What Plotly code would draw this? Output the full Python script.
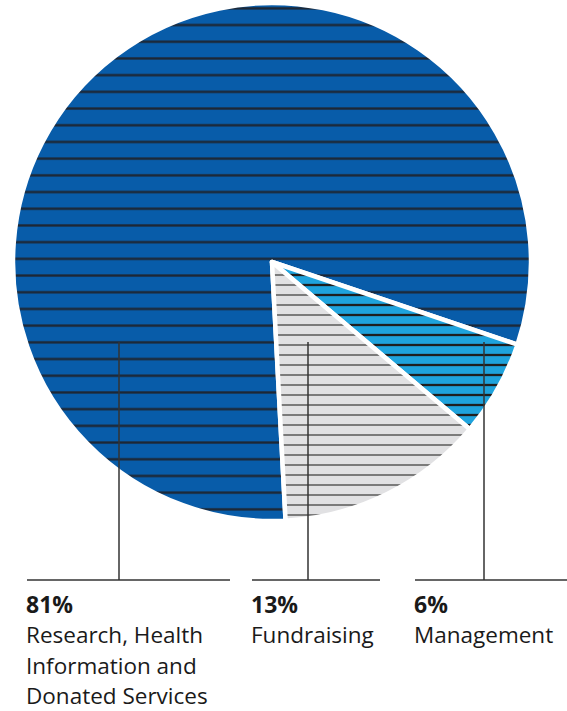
import plotly.graph_objects as go

# ---- data ----
categories = ["Research, Health Information and Donated Services", "Management", "Fundraising"]
values = [81, 6, 13]
pct_labels = ["81%", "6%", "13%"]
label_lines = [["Research, Health", "Information and", "Donated Services"], ["Management"], ["Fundraising"]]

# ---- styles ----
W, H = 567, 711
fill_colors = ["#085ca9", "#1ea3dd", "#e1e1e3"]
line_colors = ["#1d2633", "#1f1f1f", "#7b7b7b"]
pattern_sizes = [16.7, 10, 10]
pattern_solid = [0.14, 0.23, 0.2]

cx, cy, r = 272, 262, 259
label_x = [27, 415, 252]          # left edge of label blocks
leader_x = [119, 484, 308]        # vertical leader positions
rule_right = [230, 567, 380]
rule_y = 580
leader_top = 342

fig = go.Figure()
fig.add_trace(go.Pie(
    labels=categories, values=values, sort=False, direction="clockwise", rotation=177,
    textinfo="none", hoverinfo="label+percent", showlegend=False,
    marker=dict(colors=fill_colors, line=dict(color="white", width=4.5),
                pattern=dict(shape=["-", "-", "-"], fgcolor=line_colors, bgcolor=fill_colors,
                             size=pattern_sizes, solidity=pattern_solid, fillmode="replace")),
    domain=dict(x=[(cx - r) / W, (cx + r) / W], y=[1 - (cy + r) / H, 1 - (cy - r) / H]),
))

# invisible pixel axes for annotations
fig.add_trace(go.Scatter(x=[0, W], y=[0, H], mode="markers", marker=dict(opacity=0), hoverinfo="skip", showlegend=False))

shapes = []
annotations = []
for i in range(len(values)):
    shapes.append(dict(type="line", xref="x", yref="y", x0=leader_x[i], x1=leader_x[i], y0=leader_top, y1=rule_y,
                       line=dict(color="#333333", width=1.5)))
    shapes.append(dict(type="line", xref="x", yref="y", x0=label_x[i], x1=rule_right[i], y0=rule_y, y1=rule_y,
                       line=dict(color="#333333", width=1.5)))
    annotations.append(dict(x=label_x[i] - 2, y=604, xref="x", yref="y", text="<b>" + pct_labels[i] + "</b>",
                            showarrow=False, xanchor="left", yanchor="middle", borderpad=0,
                            font=dict(family="Open Sans", size=23, color="#1a1a1a")))
    for j, ln in enumerate(label_lines[i]):
        annotations.append(dict(x=label_x[i] - 2, y=634.5 + 30.5 * j, xref="x", yref="y", text=ln,
                                showarrow=False, xanchor="left", yanchor="middle", borderpad=0,
                                font=dict(family="Open Sans", size=22.5, color="#1a1a1a")))

fig.update_layout(
    width=W, height=H, margin=dict(l=0, r=0, t=0, b=0),
    paper_bgcolor="white", plot_bgcolor="rgba(0,0,0,0)",
    xaxis=dict(range=[0, W], visible=False, domain=[0, 1], fixedrange=True),
    yaxis=dict(range=[H, 0], visible=False, domain=[0, 1], fixedrange=True),
    shapes=shapes, annotations=annotations,
)
fig.write_html("out.html", config={"displayModeBar": False},
               post_script="document.body.style.margin='0';document.body.style.overflow='hidden';")
